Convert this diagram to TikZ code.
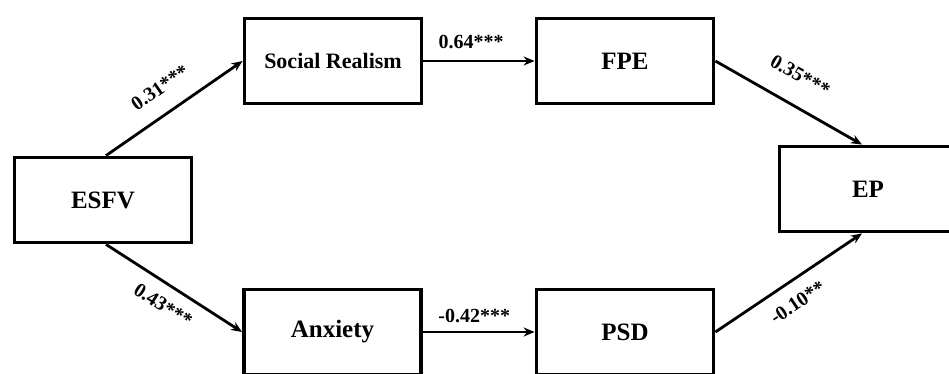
\documentclass[tikz,border=0pt]{standalone}
\usepackage{fontspec}
\setmainfont{Liberation Serif}
\usetikzlibrary{arrows.meta}
\begin{document}
\begin{tikzpicture}[x=1pt,y=-1pt,
 box/.style={draw, line width=3.8pt, minimum width=177pt, minimum height=85pt, font=\bfseries\fontsize{25}{30}\selectfont, inner sep=0pt},
 arr/.style={line width=2.8pt, -{Stealth[length=11pt,width=9pt]}},
 lab/.style={font=\bfseries\fontsize{20}{24}\selectfont, inner sep=3pt}]
\useasboundingbox[fill=white] (0,0) rectangle (949,374);
\node[box] (esfv) at (103,200) {ESFV};
\node[box, font=\bfseries\fontsize{22}{26}\selectfont] (sr) at (333,61) {Social Realism};
\node[box] (fpe) at (625,61) {FPE};
\node[box] (ep) at (868,189) {EP};
\node[box] (anx) at (332.5,332) {Anxiety};
\node[box] (psd) at (625,332) {PSD};
\coordinate (ept) at ([xshift=-6pt]ep.north);
\coordinate (epb) at ([xshift=-6pt]ep.south);
\draw[arr] ([xshift=3pt]esfv.north) -- node[lab, pos=0.5, sloped, above=14pt] {0.31***} (sr.west);
\draw[arr] ([xshift=3pt]esfv.south) -- node[lab, pos=0.5, sloped, below=9pt] {0.43***} (anx.west);
\draw[arr] (sr.east) -- node[lab, pos=0.43, above=8pt] {0.64***} (fpe.west);
\draw[arr] (anx.east) -- node[lab, pos=0.46, above=5pt] {-0.42***} (psd.west);
\draw[arr] (fpe.east) -- node[lab, pos=0.48, sloped, above=18pt] {0.35***} (ept);
\draw[arr] (psd.east) -- node[lab, pos=0.48, sloped, below=10pt] {-0.10**} (epb);
\end{tikzpicture}
\end{document}
